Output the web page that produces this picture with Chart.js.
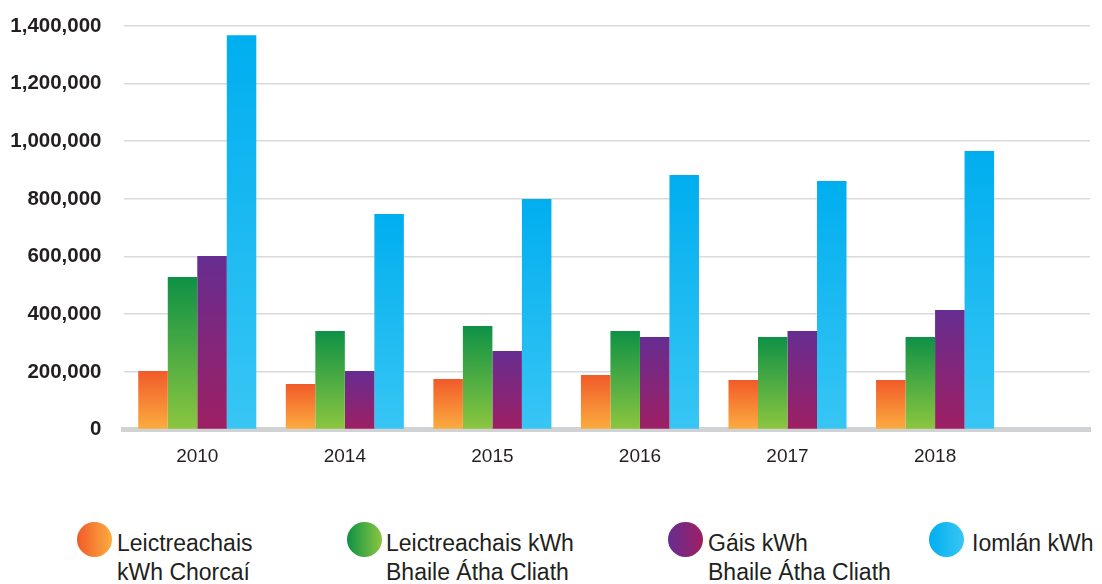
<!DOCTYPE html>
<html>
<head>
<meta charset="utf-8">
<script src="https://cdn.jsdelivr.net/npm/chart.js@4.4.1/dist/chart.umd.min.js"></script>
<style>
  html, body { margin: 0; padding: 0; background: #fff; }
  body { width: 1102px; height: 584px; position: relative; overflow: hidden; }
  #wrap { position: absolute; left: 0; top: 0; width: 1102px; height: 480px; }
  .lg { position: absolute; font-family: "Liberation Sans", Arial, sans-serif;
        font-size: 23px; line-height: 29px; color: #231f20; white-space: nowrap; }
  .dot { position: absolute; width: 35px; height: 35px; border-radius: 50%; }
</style>
</head>
<body>
<div id="wrap"><canvas id="c"></canvas></div>
<div id="legend"></div>
<script>
const years = ['2010', '2014', '2015', '2016', '2017', '2018'];
const yTicks = [0, 200000, 400000, 600000, 800000, 1000000, 1200000, 1400000];
const corkElec = [203000, 158000, 175000, 189000, 172000, 172000];
const dublinElec = [529000, 342000, 359000, 342000, 321000, 321000];
const dublinGas = [602000, 203000, 272000, 321000, 342000, 415000];
const totalKwh = [1368000, 748000, 800000, 883000, 862000, 966000];
const seriesNames = [
  ['Leictreachais', 'kWh Chorcaí'],
  ['Leictreachais kWh', 'Bhaile Átha Cliath'],
  ['Gáis kWh', 'Bhaile Átha Cliath'],
  ['Iomlán kWh']
];
const seriesValues = [corkElec, dublinElec, dublinGas, totalKwh];
const gradStops = [
  ['#f15a29', '#fbad3f'],
  ['#0e9146', '#8cc63f'],
  ['#662d91', '#9e1f63'],
  ['#00aeef', '#38c6f4']
];

function barGradient(top, bottom) {
  return (ctx) => {
    const chart = ctx.chart;
    const y = chart.scales && chart.scales.y;
    if (!y || ctx.type !== 'data' || !ctx.raw) return top;
    const y0 = y.getPixelForValue(ctx.raw.y);
    const y1 = y.getPixelForValue(0);
    if (!isFinite(y0) || !isFinite(y1) || y0 === y1) return top;
    const g = chart.ctx.createLinearGradient(0, y0, 0, y1);
    g.addColorStop(0, top);
    g.addColorStop(1, bottom);
    return g;
  };
}

const datasets = seriesValues.map((vals, i) => ({
  label: seriesNames[i].join(' '),
  data: vals.map((v, k) => ({ x: k, y: v })),
  backgroundColor: barGradient(gradStops[i][0], gradStops[i][1]),
  borderWidth: 0,
  categoryPercentage: 0.8,
  barPercentage: 1.0
}));

const fontFam = '"Liberation Sans", Arial, sans-serif';

new Chart(document.getElementById('c'), {
  type: 'bar',
  data: { datasets },
  options: {
    responsive: true,
    maintainAspectRatio: false,
    animation: false,
    layout: { padding: { top: 26, right: 12, bottom: 0, left: 0 } },
    plugins: { legend: { display: false }, tooltip: { enabled: false } },
    scales: {
      x: {
        type: 'linear',
        offset: false,
        min: -0.5,
        max: 6.05,
        afterBuildTicks: (scale) => { scale.ticks = years.map((_, i) => ({ value: i })); },
        afterFit: (scale) => { scale.height = 50.5; scale.paddingLeft = 0; scale.paddingRight = 0; },
        ticks: {
          autoSkip: false,
          maxRotation: 0,
          padding: 16,
          color: '#231f20',
          font: { family: fontFam, size: 19 },
          callback: (v) => years[v] !== undefined ? years[v] : ''
        },
        grid: { display: false, drawTicks: false },
        border: { display: true, color: '#d1d2d4', width: 5 }
      },
      y: {
        min: 0,
        max: 1400000,
        afterBuildTicks: (scale) => { scale.ticks = yTicks.map(v => ({ value: v })); },
        afterFit: (scale) => { scale.width = 123.5; scale.paddingTop = 0; scale.paddingBottom = 0; },
        ticks: {
          padding: 22,
          color: '#231f20',
          font: { family: fontFam, size: 20.5, weight: 'bold' },
          callback: (v) => Number(v).toLocaleString('en-US')
        },
        grid: { color: '#dadada', lineWidth: 1.6, drawTicks: false },
        border: { display: false }
      }
    }
  }
});

// HTML legend
const legendPos = [
  { cx: 94, tx: 117 },
  { cx: 364, tx: 386 },
  { cx: 685, tx: 708 },
  { cx: 946.5, tx: 972 }
];
const legend = document.getElementById('legend');
seriesNames.forEach((lines, i) => {
  const d = document.createElement('div');
  d.className = 'dot';
  d.style.left = (legendPos[i].cx - 17.5) + 'px';
  d.style.top = (539 - 17.5) + 'px';
  d.style.background = 'linear-gradient(to right, ' + gradStops[i][0] + ', ' + gradStops[i][1] + ')';
  legend.appendChild(d);
  const t = document.createElement('div');
  t.className = 'lg';
  t.style.left = legendPos[i].tx + 'px';
  t.style.top = '529px';
  t.innerHTML = lines.map(s => '<div>' + s + '</div>').join('');
  legend.appendChild(t);
});
</script>
</body>
</html>
